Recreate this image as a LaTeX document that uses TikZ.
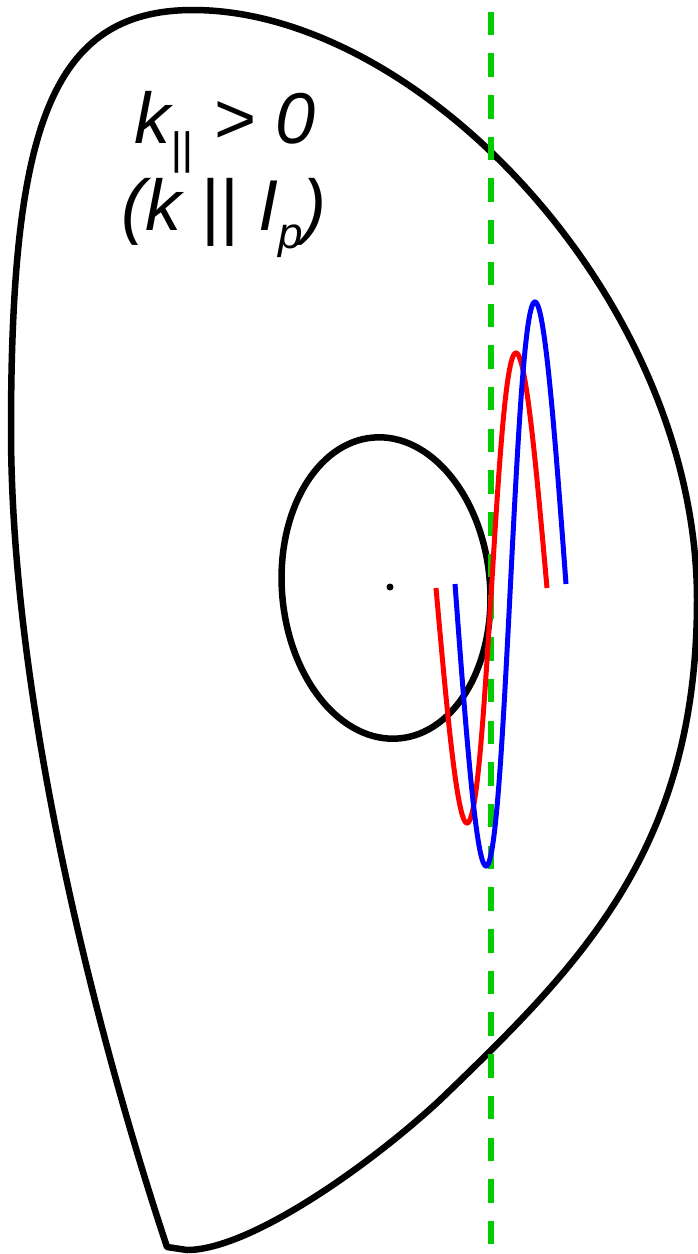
\documentclass[tikz,border=0pt]{standalone}
\usepackage{fontspec}
\setmainfont{Liberation Sans}
\definecolor{lgreen}{RGB}{0,204,0}
\definecolor{wred}{RGB}{255,0,0}
\definecolor{wblue}{RGB}{0,0,255}
\begin{document}
\begin{tikzpicture}[x=1pt,y=-1pt,
  outline/.style={draw=black, line width=6.5pt, line join=round},
  wave/.style={line width=5pt},
  axisline/.style={draw=lgreen, line width=5.5pt, dash pattern=on 23.5pt off 18.2pt},
  txt/.style={font=\fontsize{72}{86}\selectfont\itshape, inner sep=0pt}]
\useasboundingbox (0,0) rectangle (698,1254);
% outer boundary (last closed flux surface with lower X-point)
\coordinate (xpt)   at (167,1247);
\coordinate (left)  at (11,430);
\coordinate (top)   at (193,10);
\coordinate (right) at (697,600);
\coordinate (lowr)  at (440,1100);
\coordinate (bot)   at (187,1250);
\draw[outline] (xpt)
  .. controls (95,1030) and (11,700) .. (left)
  .. controls (11,130) and (50,10) .. (top)
  .. controls (420,10) and (697,300) .. (right)
  .. controls (697,850) and (580,965) .. (lowr)
  .. controls (370,1165) and (250,1250) .. (bot)
  -- cycle;
% inner flux surface
\draw[outline, rotate around={5:(386,588)}] (386,588) ellipse [x radius=104, y radius=151];
\fill (390,587) circle [radius=3.5];
% dashed chord
\coordinate (dtop) at (491,11.6);
\coordinate (dbot) at (491,1254);
\draw[axisline] (dtop) -- (dbot);
% waves
\draw[wave, wred] plot[domain=0:360, samples=181, variable=\t]
  ({436+0.308333*\t+3.3*sin(\t)}, {588+235*sin(\t)});
\draw[wave, wblue] plot[domain=0:360, samples=181, variable=\t]
  ({455+0.308333*\t+3.3*sin(\t)}, {584+282*sin(\t)});
% labels
\node[txt, anchor=base] (t1) at (225,143)
  {k\raisebox{-20pt}{\fontsize{44}{44}\selectfont ||} > 0};
\node[txt, anchor=base] (t2) at (224,230)
  {(k || I\raisebox{-18pt}{\fontsize{44}{44}\selectfont p})};
\end{tikzpicture}
\end{document}
